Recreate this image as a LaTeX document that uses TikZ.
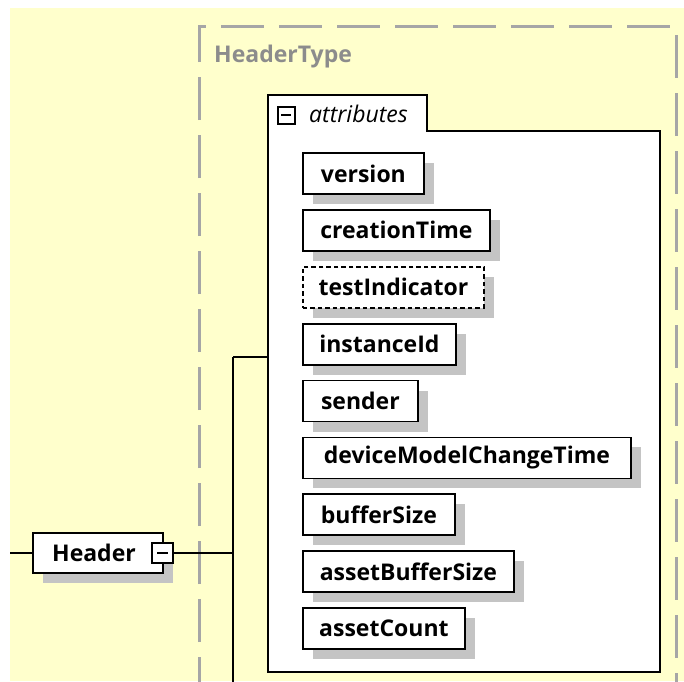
\documentclass[tikz,border=0pt]{standalone}
\usepackage{fontspec}
\setmainfont{Open Sans}
\usetikzlibrary{shadows}
\definecolor{bgyellow}{HTML}{FFFFCC}
\definecolor{shadowgray}{HTML}{C4C4C4}
\definecolor{typegray}{HTML}{A6A6A6}
\definecolor{typetext}{HTML}{8C8C8C}
\tikzset{
  myshadow/.style={drop shadow={shadow xshift=10pt, shadow yshift=-10pt, fill=shadowgray, opacity=1}},
  attrbox/.style={draw=black, line width=1.8pt, fill=white, minimum height=41pt,
    anchor=north west, inner sep=0pt, font=\fontsize{23}{27}\selectfont\bfseries, myshadow},
  optbox/.style={attrbox, dash pattern=on 4.5pt off 3pt},
  minusbox/.style={draw=black, line width=2.4pt, fill=white, inner sep=0pt},
  conn/.style={draw=black, line width=1.5pt},
}
\begin{document}
\begin{tikzpicture}[x=1pt, y=-1pt]
\useasboundingbox (0,0) rectangle (684,681);
\fill[white] (0,0) rectangle (684,681);
\fill[bgyellow] (10,8) rectangle (684,681);
% type box (dashed)
\draw[typegray, line width=3pt, dash pattern=on 43pt off 15pt]
  (199,700) -- (199,26) -- (676,26) -- (676,700);
\node[anchor=west, text=typetext, font=\fontsize{23}{27}\selectfont\bfseries, inner sep=0pt] (htype) at (214,57) {HeaderType};
% attributes group
\draw[line width=1.8pt, fill=white] (268,672) -- (268,95) -- (427,95) -- (427,131) -- (660,131) -- (660,672) -- cycle;
\node[minusbox, minimum size=17pt, line width=2pt] (amin) at (286,115) {};
\draw[line width=1.8pt] ([xshift=-5pt]amin.center) -- ([xshift=5pt]amin.center);
\node[anchor=west, inner sep=0pt, font=\fontsize{23}{27}\selectfont\itshape] (atxt) at (309,114) {attributes};
\coordinate (agrp) at (268,357);
% attributes
\node[attrbox, minimum width=121pt] (a1) at (302,152.0) {version};
\node[attrbox, minimum width=187pt] (a2) at (302,208.9) {creationTime};
\node[optbox,  minimum width=181pt] (a3) at (302,265.8) {testIndicator};
\node[attrbox, minimum width=153pt] (a4) at (302,322.7) {instanceId};
\node[attrbox, minimum width=115pt] (a5) at (302,379.6) {sender};
\node[attrbox, minimum width=328pt] (a6) at (302,436.5) {deviceModelChangeTime};
\node[attrbox, minimum width=152pt] (a7) at (302,493.4) {bufferSize};
\node[attrbox, minimum width=211pt] (a8) at (302,550.3) {assetBufferSize};
\node[attrbox, minimum width=162pt] (a9) at (302,607.2) {assetCount};
% Header element
\node[draw=black, line width=1.8pt, fill=white, minimum width=130pt, minimum height=40pt,
  inner sep=0pt, font=\fontsize{23}{27}\selectfont\bfseries, myshadow] (hdr) at (98,553) {Header\kern8pt};
\node[minusbox, minimum width=21pt, minimum height=20pt] (hmin) at (162.5,553) {};
\draw[line width=1.8pt] ([xshift=-5.5pt]hmin.center) -- ([xshift=5.5pt]hmin.center);
% connectors
\coordinate (lin) at (10,553);
\coordinate (jv) at (233,553);
\coordinate (jtop) at (233,357);
\coordinate (jbot) at (233,700);
\draw[conn] (lin) -- (hdr.west);
\draw[conn] (hmin.east) -- (jv);
\draw[conn] (jtop) -- (jbot);
\draw[conn] (jtop) -- (agrp);
\end{tikzpicture}
\end{document}
